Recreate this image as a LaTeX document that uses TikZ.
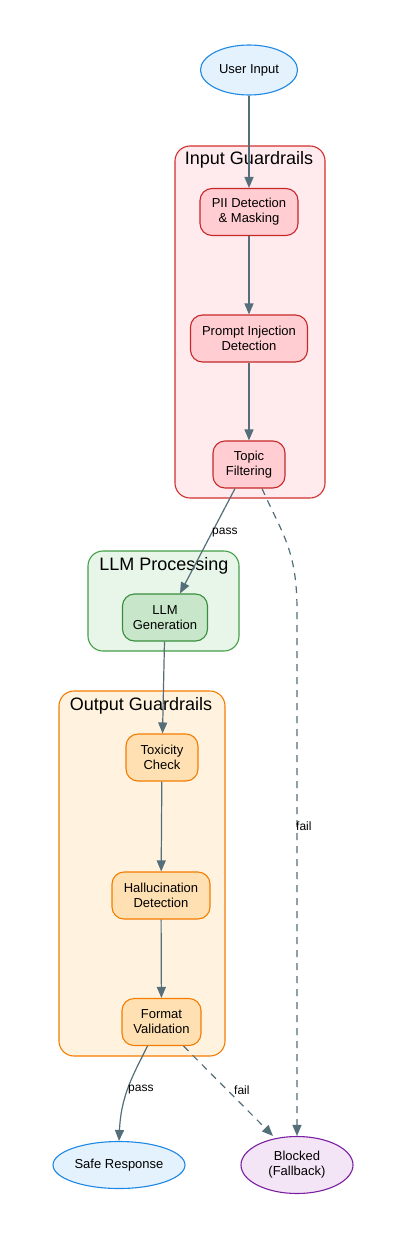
\documentclass[tikz,border=0pt]{standalone}
\usepackage{fontspec}
\setmainfont{Liberation Sans}
\usetikzlibrary{shapes.geometric,arrows.meta,calc}
\definecolor{edgec}{HTML}{546E7A}
\definecolor{bluef}{HTML}{E3F2FD}
\definecolor{blued}{HTML}{1E88E5}
\definecolor{redcf}{HTML}{FFEBEE}
\definecolor{redcd}{HTML}{D32F2F}
\definecolor{rednf}{HTML}{FFCDD2}
\definecolor{rednd}{HTML}{C62828}
\definecolor{grncf}{HTML}{E8F5E9}
\definecolor{grncd}{HTML}{43A047}
\definecolor{grnnf}{HTML}{C8E6C9}
\definecolor{grnnd}{HTML}{388E3C}
\definecolor{orgcf}{HTML}{FFF3E0}
\definecolor{orgcd}{HTML}{F57C00}
\definecolor{orgnf}{HTML}{FFE0B2}
\definecolor{orgnd}{HTML}{F57C00}
\definecolor{purf}{HTML}{F3E5F5}
\definecolor{purd}{HTML}{7B1FA2}
\tikzset{
  nodetext/.style={font=\fontsize{13}{15}\selectfont, align=center, inner sep=0pt},
  boxnode/.style={nodetext, rectangle, rounded corners=12pt, line width=1.1pt, minimum height=47pt},
  rednode/.style={boxnode, fill=rednf, draw=rednd},
  grnnode/.style={boxnode, fill=grnnf, draw=grnnd},
  orgnode/.style={boxnode, fill=orgnf, draw=orgnd},
  ellnode/.style={nodetext, ellipse, line width=1.1pt},
  cluster/.style={rounded corners=15pt, line width=1.1pt},
  cltitle/.style={font=\fontsize{18}{20}\selectfont, inner sep=0pt},
  edge/.style={draw=edgec, line width=1.2pt, -{Triangle[length=11pt,width=9pt]}},
  dedge/.style={edge, dash pattern=on 7pt off 6pt},
  elabel/.style={font=\fontsize{12}{13}\selectfont, inner sep=0pt, text=black}
}
\begin{document}
\begin{tikzpicture}[x=1pt,y=-1pt]
\useasboundingbox (0,0) rectangle (401,1242);
\fill[white] (0,0) rectangle (401,1242);
% clusters
\draw[cluster, fill=redcf, draw=redcd] (175,146) rectangle (325,498);
\node[cltitle] (tin) at (249,160) {Input Guardrails};
\draw[cluster, fill=grncf, draw=grncd] (88,551) rectangle (239,651);
\node[cltitle] (tllm) at (164,566) {LLM Processing};
\draw[cluster, fill=orgcf, draw=orgcd] (59,691) rectangle (225,1056);
\node[cltitle] (tout) at (141,706) {Output Guardrails};
% nodes
\node[ellnode, fill=bluef, draw=blued, minimum width=97pt, minimum height=50pt] (user) at (249,70) {User Input};
\node[rednode, minimum width=98pt] (pii) at (249,212) {PII Detection\\\& Masking};
\node[rednode, minimum width=117pt] (prompt) at (249,338.5) {Prompt Injection\\Detection};
\node[rednode, minimum width=72pt] (topic) at (249,464.5) {Topic\\Filtering};
\node[grnnode, minimum width=85pt] (llm) at (165,617.5) {LLM\\Generation};
\node[orgnode, minimum width=72pt] (tox) at (162,757.5) {Toxicity\\Check};
\node[orgnode, minimum width=98pt] (hall) at (161,895.5) {Hallucination\\Detection};
\node[orgnode, minimum width=79pt] (fmt) at (161.5,1022) {Format\\Validation};
\node[ellnode, fill=bluef, draw=blued, minimum width=132pt, minimum height=47pt] (safe) at (119,1165) {Safe Response};
\node[ellnode, fill=purf, draw=purd, minimum width=112pt, minimum height=57pt] (blocked) at (297,1165) {Blocked\\(Fallback)};
% edges
\draw[edge] (user) -- (pii);
\draw[edge] (pii) -- (prompt);
\draw[edge] (prompt) -- (topic);
\draw[edge] ($(topic.south)+(-14,0)$) -- (llm.north -| 180,0);
\node[elabel, anchor=west] (lpass1) at (212,533) {pass};
\coordinate (fbend) at (297,610);
\draw[dedge] ($(topic.south)+(13,0)$) .. controls +(20,45) and +(0,-60) .. (fbend) -- (blocked.north);
\node[elabel, anchor=west] (lfail1) at (296,826) {fail};
\draw[edge] (llm) -- (tox);
\draw[edge] (tox) -- (hall);
\draw[edge] (hall) -- (fmt);
\coordinate (sfend) at ($(safe.north)+(0,0)$);
\draw[edge] ($(fmt.south)+(-14,0)$) .. controls +(-15,30) and +(2,-45) .. (sfend);
\node[elabel, anchor=west] (lpass2) at (128,1090) {pass};
\draw[dedge] ($(fmt.south)+(22,0)$) -- ($(blocked.north)+(-24,0)$);
\node[elabel, anchor=west] (lfail2) at (234,1090) {fail};
\end{tikzpicture}
\end{document}
